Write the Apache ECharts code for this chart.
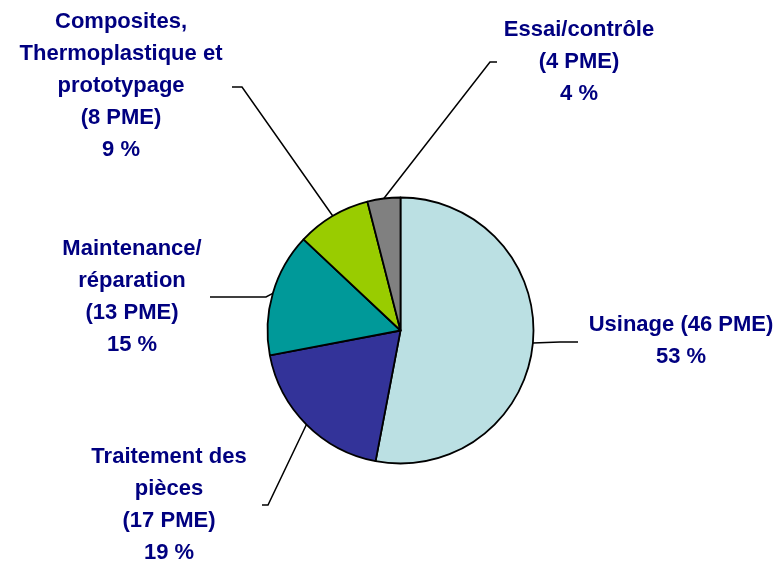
<!DOCTYPE html>
<html>
<head>
<meta charset="utf-8">
<script src="https://cdn.jsdelivr.net/npm/echarts@6/dist/echarts.min.js"></script>
<style>
  html, body { margin: 0; padding: 0; background: #fff; }
  #chart { width: 784px; height: 563px; }
</style>
</head>
<body>
<div id="chart"></div>
<script>
// données
const categories = ['Usinage', 'Traitement des\npièces', 'Maintenance/\nréparation', 'Composites,\nThermoplastique et\nprototypage', 'Essai/contrôle'];
const pmeCounts = [46, 17, 13, 8, 4];
const shares = [53, 19, 15, 9, 4];
const colors = ['#BBE0E3', '#333399', '#009999', '#99CC00', '#808080'];

// placement des étiquettes : centre du texte, coude et fin du trait
const labelSpots = [
  { cx: 681, cy: 341, bend: [560, 342], end: [578, 342] },
  { cx: 169, cy: 505, bend: [268, 505], end: [262, 505] },
  { cx: 132, cy: 297, bend: [266, 297], end: [210, 297] },
  { cx: 121, cy: 86, bend: [242, 87], end: [232, 87] },
  { cx: 579, cy: 62, bend: [490, 62], end: [497, 62] }
];

const chart = echarts.init(document.getElementById('chart'));

const labelText = (i) => {
  const sep = i === 0 ? ' ' : '\n';
  const txt = categories[i] + sep + '(' + pmeCounts[i] + ' PME)\n' + shares[i] + ' %';
  return txt.split('\n').map(l => '{t|' + l + '}').join('\n');
};

chart.setOption({
  animation: false,
  series: [{
    type: 'pie',
    center: [400.5, 330.5],
    radius: 133,
    startAngle: 90,
    clockwise: true,
    avoidLabelOverlap: false,
    emphasis: { disabled: true },
    itemStyle: { borderColor: '#000', borderWidth: 1.8 },
    label: {
      show: true,
      position: 'outside',
      formatter: (p) => labelText(p.dataIndex),
      rich: {
        t: {
          align: 'center',
          fontFamily: 'Liberation Sans, Arial, sans-serif',
          fontWeight: 'bold',
          fontSize: 22,
          lineHeight: 32,
          color: '#000080'
        }
      }
    },
    labelLine: {
      show: true,
      length: 10,
      length2: 10,
      lineStyle: { color: '#000', width: 1.5 }
    },
    labelLayout: (params) => {
      const s = labelSpots[params.dataIndex];
      const start = params.labelLinePoints ? params.labelLinePoints[0] : s.bend;
      return {
        x: s.cx,
        y: s.cy,
        align: 'center',
        verticalAlign: 'middle',
        labelLinePoints: [start, s.bend, s.end]
      };
    },
    data: categories.map((c, i) => ({
      name: c,
      value: shares[i],
      itemStyle: { color: colors[i] }
    }))
  }]
});
</script>
</body>
</html>
